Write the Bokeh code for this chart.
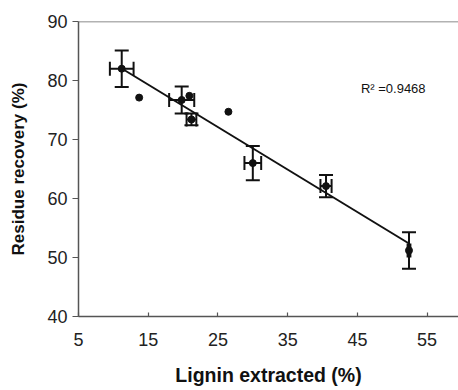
from bokeh.plotting import figure
from bokeh.models import Range1d, FixedTicker, Whisker, TeeHead, ColumnDataSource, Label, Span
from bokeh.embed import file_html
from bokeh.resources import INLINE

# Data
lignin = [11.2, 13.7, 19.8, 20.9, 21.2, 26.5, 30.0, 40.5, 52.4]
recovery = [82.0, 77.1, 76.7, 77.4, 73.4, 74.7, 66.0, 62.1, 51.2]

# Subset with error bars
err_x = [11.2, 19.8, 21.2, 30.0, 40.5, 52.4]
err_y = [82.0, 76.7, 73.4, 66.0, 62.1, 51.2]
xerr = [1.7, 1.8, 0.7, 1.2, 0.8, 0.2]
yerr = [3.1, 2.3, 1.0, 2.9, 1.9, 3.1]

fit_slope = -0.72
fit_intercept = 90.1
r2_text = "R\u00b2 =0.9468"

x_ticks = [5, 15, 25, 35, 45, 55]
y_ticks = [40, 50, 60, 70, 80, 90]

FONT = "Liberation Sans"

p = figure(width=458, height=388, output_backend="svg", toolbar_location=None,
           x_range=Range1d(5, 59.5), y_range=Range1d(40, 90),
           min_border_left=78, min_border_right=0, min_border_top=21, min_border_bottom=70)
p.outline_line_color = None
p.xgrid.visible = False
p.ygrid.visible = False

# top line at y=90
p.add_layout(Span(location=90, dimension="width", line_color="#666666", line_width=1.5))

# regression line
fx = [min(lignin), max(lignin)]
fy = [fit_slope * v + fit_intercept for v in fx]
p.line(fx, fy, line_color="#111111", line_width=2)

# error bars
src = ColumnDataSource(dict(
    x=err_x, y=err_y,
    xl=[a - b for a, b in zip(err_x, xerr)], xu=[a + b for a, b in zip(err_x, xerr)],
    yl=[a - b for a, b in zip(err_y, yerr)], yu=[a + b for a, b in zip(err_y, yerr)],
))
p.add_layout(Whisker(source=src, base="x", lower="yl", upper="yu", dimension="height",
                     line_color="#111111", line_width=2,
                     upper_head=TeeHead(size=14, line_color="#111111", line_width=2),
                     lower_head=TeeHead(size=14, line_color="#111111", line_width=2)))
p.add_layout(Whisker(source=src, base="y", lower="xl", upper="xu", dimension="width",
                     line_color="#111111", line_width=2,
                     upper_head=TeeHead(size=14, line_color="#111111", line_width=2),
                     lower_head=TeeHead(size=14, line_color="#111111", line_width=2)))

p.scatter(lignin, recovery, size=7, color="#111111")

p.add_layout(Label(x=45.5, y=78.6, text=r2_text, text_font=FONT, text_font_size="13px",
                   text_color="#111111", text_baseline="middle", text_align="left"))

# axes
p.xaxis.ticker = FixedTicker(ticks=x_ticks)
p.yaxis.ticker = FixedTicker(ticks=y_ticks)
p.xaxis.minor_tick_line_color = None
p.yaxis.minor_tick_line_color = None
for ax in (p.xaxis[0], p.yaxis[0]):
    ax.axis_line_color = "#555555"
    ax.axis_line_width = 1.5
    ax.major_tick_line_color = "#555555"
    ax.major_tick_line_width = 1.2
    ax.major_label_text_font = FONT
    ax.major_label_text_font_size = "18px"
    ax.major_label_text_color = "#222222"
    ax.axis_label_text_font = FONT
    ax.axis_label_text_font_style = "bold"
    ax.axis_label_text_color = "#111111"

p.xaxis.major_tick_out = 0
p.xaxis.major_tick_in = 4
p.xaxis.major_label_standoff = 16
p.xaxis.axis_label = "Lignin extracted (%)"
p.xaxis.axis_label_text_font_size = "19.5px"
p.xaxis.axis_label_standoff = 15

p.yaxis.major_tick_out = 6
p.yaxis.major_tick_in = 0
p.yaxis.major_label_standoff = 5
p.yaxis.axis_label = "Residue recovery (%)"
p.yaxis.axis_label_text_font_size = "17px"
p.yaxis.axis_label_standoff = 16

open("out.html", "w").write(file_html(p, INLINE))
